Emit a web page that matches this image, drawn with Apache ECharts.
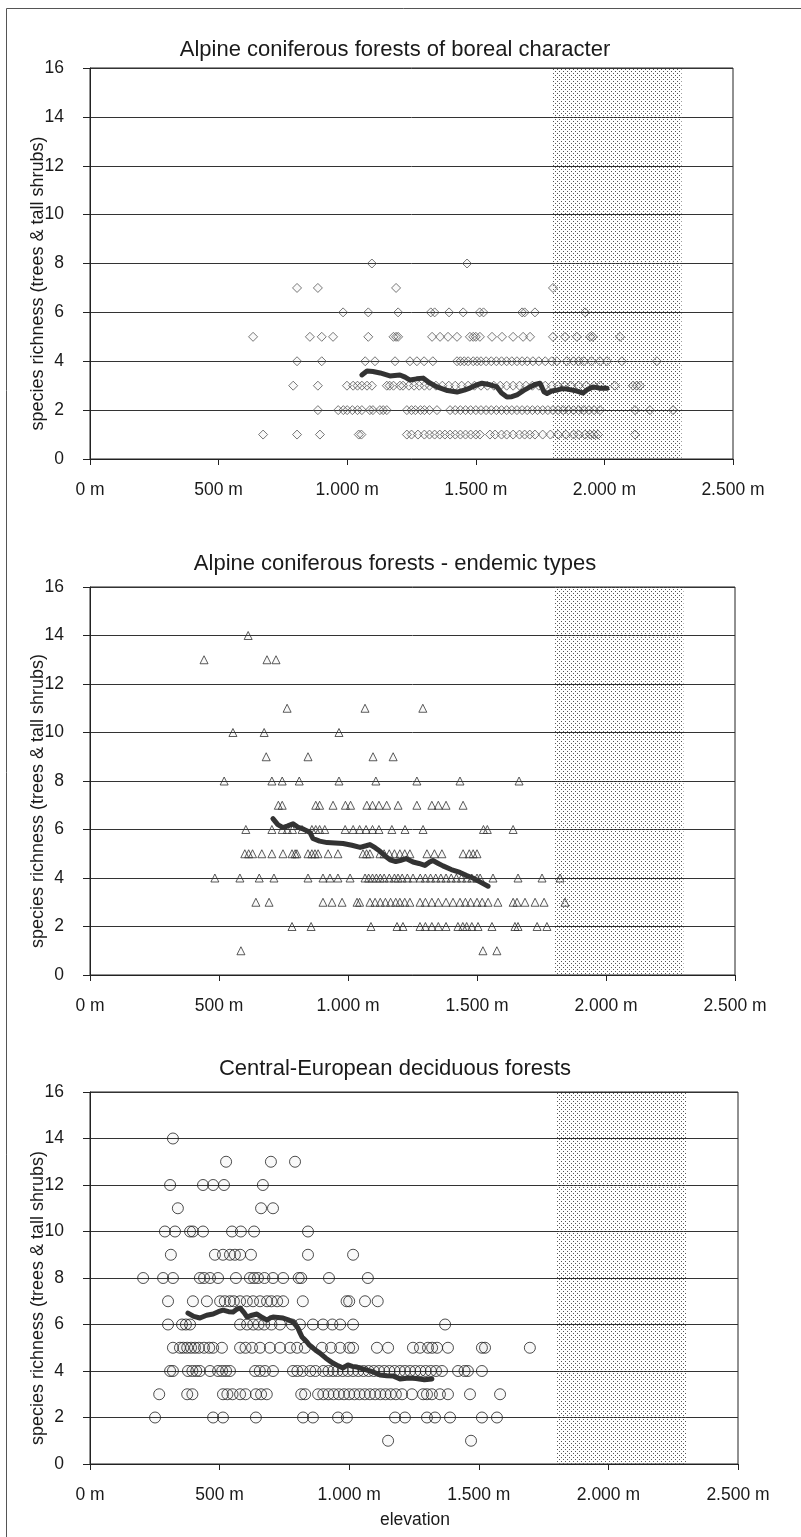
<!DOCTYPE html>
<html>
<head>
<meta charset="utf-8">
<title>species richness vs elevation</title>
<script src="https://cdn.jsdelivr.net/npm/echarts@6/dist/echarts.min.js"></script>
<style>
  html, body { margin: 0; padding: 0; background: #fff; }
  #chart { width: 801px; height: 1537px; }
</style>
</head>
<body>
<div id="chart"></div>
<script>
/************************** data **************************/
// elevations (m) of the plots, grouped by species richness: index = richness
var borealByRichness = [
    [],
    [673, 805, 894, 1045, 1055, 1232, 1250, 1275, 1300, 1320, 1340, 1360, 1380, 1400, 1420, 1440, 1460, 1480, 1500, 1516, 1555, 1575, 1600, 1620, 1645, 1670, 1690, 1710, 1730, 1760, 1790, 1820, 1850, 1880, 1900, 1925, 1945, 1960, 1975, 2119],
    [886, 965, 985, 1000, 1020, 1040, 1057, 1088, 1100, 1127, 1140, 1154, 1232, 1250, 1265, 1285, 1300, 1320, 1349, 1400, 1420, 1440, 1460, 1480, 1500, 1520, 1540, 1560, 1580, 1600, 1620, 1640, 1660, 1680, 1700, 1720, 1740, 1760, 1780, 1800, 1820, 1840, 1860, 1880, 1900, 1920, 1940, 1960, 1983, 2119, 2177, 2267],
    [790, 886, 999, 1023, 1040, 1057, 1077, 1096, 1154, 1165, 1180, 1205, 1217, 1240, 1260, 1280, 1300, 1320, 1345, 1370, 1395, 1420, 1445, 1470, 1495, 1520, 1545, 1570, 1595, 1620, 1645, 1670, 1695, 1720, 1745, 1770, 1795, 1820, 1845, 1870, 1900, 1930, 1960, 1983, 2041, 2111, 2125, 2138],
    [805, 901, 1070, 1108, 1186, 1244, 1271, 1299, 1333, 1427, 1440, 1455, 1470, 1490, 1505, 1520, 1540, 1560, 1580, 1600, 1620, 1640, 1660, 1680, 1700, 1722, 1745, 1770, 1795, 1815, 1854, 1880, 1900, 1920, 1950, 1983, 2010, 2068, 2204],
    [634, 855, 901, 945, 1082, 1180, 1190, 1198, 1330, 1361, 1392, 1427, 1477, 1490, 1500, 1516, 1563, 1602, 1645, 1684, 1711, 1800, 1847, 1893, 1945, 1955, 2061],
    [984, 1082, 1198, 1325, 1340, 1396, 1451, 1515, 1530, 1680, 1690, 1730, 1925],
    [805, 886, 1190, 1800],
    [1096, 1466]
];
var endemicByRichness = [
    [],
    [585, 1523, 1577],
    [783, 857, 1089, 1190, 1213, 1279, 1300, 1325, 1350, 1380, 1426, 1445, 1460, 1480, 1504, 1558, 1647, 1659, 1733, 1771],
    [643, 694, 903, 938, 977, 1035, 1045, 1085, 1105, 1125, 1145, 1165, 1185, 1201, 1220, 1240, 1279, 1300, 1325, 1350, 1380, 1407, 1434, 1455, 1475, 1500, 1520, 1543, 1581, 1640, 1655, 1686, 1725, 1760, 1841],
    [484, 581, 656, 713, 845, 903, 930, 961, 1008, 1066, 1080, 1095, 1110, 1125, 1140, 1160, 1180, 1194, 1210, 1230, 1252, 1280, 1300, 1320, 1340, 1360, 1380, 1400, 1420, 1440, 1460, 1480, 1500, 1512, 1562, 1659, 1752, 1822],
    [600, 615, 630, 666, 705, 748, 783, 795, 802, 845, 860, 872, 884, 923, 961, 1058, 1072, 1085, 1124, 1140, 1160, 1180, 1201, 1220, 1240, 1306, 1335, 1364, 1446, 1470, 1485, 1500],
    [604, 705, 745, 765, 785, 822, 860, 875, 890, 910, 989, 1020, 1045, 1070, 1095, 1120, 1170, 1221, 1291, 1525, 1540, 1640],
    [730, 745, 875, 890, 942, 990, 1010, 1073, 1095, 1120, 1150, 1194, 1267, 1325, 1350, 1380, 1446],
    [520, 705, 745, 811, 965, 1108, 1267, 1434, 1663],
    [683, 845, 1097, 1175],
    [554, 675, 965],
    [764, 1066, 1290],
    [],
    [442, 686, 721],
    [613]
];
var deciduousByRichness = [
    [],
    [1150, 1470],
    [251, 475, 513, 640, 822, 860, 957, 991, 1177, 1215, 1300, 1331, 1389, 1512, 1570],
    [267, 375, 395, 513, 530, 550, 579, 600, 640, 660, 682, 815, 830, 880, 900, 920, 940, 960, 980, 1000, 1020, 1040, 1060, 1080, 1100, 1120, 1140, 1160, 1180, 1204, 1242, 1285, 1300, 1319, 1350, 1381, 1466, 1582],
    [309, 320, 378, 395, 410, 424, 463, 494, 510, 525, 540, 637, 655, 675, 706, 783, 800, 820, 850, 870, 900, 920, 938, 955, 975, 995, 1015, 1035, 1055, 1075, 1095, 1115, 1135, 1155, 1175, 1196, 1215, 1235, 1255, 1275, 1295, 1315, 1335, 1358, 1420, 1445, 1458, 1512],
    [320, 347, 360, 375, 390, 405, 420, 440, 460, 475, 509, 579, 600, 625, 656, 694, 733, 772, 799, 829, 895, 930, 965, 1000, 1015, 1107, 1150, 1246, 1273, 1304, 1320, 1339, 1381, 1512, 1524, 1697],
    [301, 355, 370, 386, 579, 606, 630, 650, 672, 700, 733, 779, 810, 860, 899, 935, 965, 1015, 1370],
    [301, 397, 451, 502, 520, 540, 555, 579, 605, 629, 656, 683, 700, 722, 745, 821, 990, 1000, 1061, 1110],
    [205, 282, 320, 424, 440, 463, 494, 563, 617, 633, 648, 673, 706, 745, 805, 815, 922, 1072],
    [312, 482, 513, 540, 559, 579, 621, 841, 1015],
    [289, 328, 386, 397, 436, 548, 582, 633, 841],
    [339, 660, 706],
    [309, 436, 475, 517, 667],
    [525, 698, 791],
    [320]
];

// running mean lines [elevation, richness]
var borealTrend = [[1057, 3.44], [1077, 3.6], [1100, 3.58], [1128, 3.52], [1150, 3.45], [1166, 3.4], [1185, 3.42], [1205, 3.44], [1225, 3.35], [1244, 3.23], [1270, 3.28], [1295, 3.31], [1320, 3.12], [1349, 2.95], [1390, 2.8], [1427, 2.74], [1455, 2.82], [1477, 2.9], [1500, 3.02], [1524, 3.1], [1550, 3.05], [1582, 2.95], [1600, 2.7], [1621, 2.54], [1640, 2.55], [1660, 2.62], [1685, 2.8], [1711, 2.95], [1730, 3.05], [1750, 3.1], [1765, 2.75], [1777, 2.68], [1795, 2.78], [1816, 2.82], [1835, 2.88], [1855, 2.86], [1875, 2.82], [1893, 2.78], [1917, 2.7], [1935, 2.85], [1956, 2.95], [1980, 2.9], [2010, 2.9]];
var endemicTrend = [[709, 6.45], [728, 6.2], [748, 6.08], [767, 6.15], [787, 6.24], [805, 6.1], [822, 6.04], [840, 5.95], [853, 5.87], [864, 5.63], [890, 5.52], [919, 5.46], [950, 5.44], [981, 5.42], [1015, 5.35], [1047, 5.26], [1070, 5.33], [1085, 5.38], [1105, 5.25], [1124, 5.1], [1145, 4.9], [1163, 4.75], [1185, 4.68], [1202, 4.72], [1225, 4.8], [1252, 4.66], [1275, 4.6], [1298, 4.52], [1315, 4.65], [1329, 4.72], [1350, 4.6], [1368, 4.5], [1400, 4.35], [1434, 4.23], [1460, 4.1], [1484, 4.0], [1515, 3.82], [1543, 3.66]];
var deciduousTrend = [[378, 6.49], [400, 6.35], [424, 6.28], [450, 6.4], [475, 6.45], [495, 6.55], [513, 6.62], [535, 6.55], [552, 6.54], [565, 6.65], [579, 6.71], [595, 6.5], [606, 6.32], [625, 6.4], [644, 6.45], [665, 6.3], [683, 6.19], [695, 6.28], [706, 6.32], [725, 6.3], [745, 6.28], [765, 6.2], [783, 6.11], [795, 5.95], [802, 5.85], [810, 5.65], [818, 5.46], [828, 5.35], [837, 5.25], [846, 5.12], [856, 5.03], [870, 4.9], [887, 4.77], [910, 4.55], [937, 4.34], [958, 4.22], [976, 4.13], [985, 4.2], [995, 4.26], [1012, 4.2], [1030, 4.17], [1050, 4.1], [1069, 4.04], [1095, 3.95], [1119, 3.83], [1145, 3.8], [1169, 3.79], [1196, 3.66], [1230, 3.7], [1258, 3.68], [1290, 3.62], [1319, 3.66]];

var panelTitles = ['Alpine coniferous forests of boreal character', 'Alpine coniferous forests - endemic types', 'Central-European deciduous forests'];
var panelSymbols = ['diamond', 'triangle', 'circle'];
var shadedBand = [1800, 2300];          // dotted elevation band
var xTicks = [0, 500, 1000, 1500, 2000, 2500];
var yTicks = [0, 2, 4, 6, 8, 10, 12, 14, 16];

/************************** layout **************************/
var FONT = '"Liberation Sans", Arial, sans-serif';
var grids = [
    {left: 90, top: 68, width: 643, height: 391},
    {left: 90, top: 587, width: 645, height: 388},
    {left: 90, top: 1092, width: 648, height: 372}
];
var titleY = [50, 564, 1069];
var symbolSizes = [9, 8, 11];
var symbolEdge = ['#555', '#333', '#222'];

function toPoints(rows) {
    var pts = [];
    for (var r = 0; r < rows.length; ++r) {
        for (var k = 0; k < rows[r].length; ++k) {
            pts.push([rows[r][k], r]);
        }
    }
    return pts;
}

function elevLabel(v) {
    if (v < 1000) return v + ' m';
    var rest = String(v % 1000);
    while (rest.length < 3) rest = '0' + rest;
    return Math.floor(v / 1000) + '.' + rest + ' m';
}

// dotted fill for the shaded band
function dotPattern() {
    var c = document.createElement('canvas');
    c.width = 4;
    c.height = 4;
    var ctx = c.getContext('2d');
    ctx.fillStyle = '#555';
    ctx.fillRect(1, 1, 1, 1);
    ctx.fillRect(3, 3, 1, 1);
    return c;
}

var pointRows = [borealByRichness, endemicByRichness, deciduousByRichness];
var trends = [borealTrend, endemicTrend, deciduousTrend];
var pattern = dotPattern();

var option = {
    backgroundColor: '#fff',
    animation: false,
    textStyle: {fontFamily: FONT},
    grid: [],
    xAxis: [],
    yAxis: [],
    series: [],
    graphic: []
};

for (var i = 0; i < 3; ++i) {
    var g = grids[i];
    option.grid.push({
        left: g.left, top: g.top, width: g.width, height: g.height,
        show: true, borderColor: '#222', borderWidth: 1, backgroundColor: 'transparent'
    });
    option.xAxis.push({
        type: 'value', gridIndex: i,
        min: xTicks[0], max: xTicks[xTicks.length - 1], interval: 500,
        axisLine: {show: true, lineStyle: {color: '#222', width: 1}},
        axisTick: {show: true, length: 6, lineStyle: {color: '#222'}},
        splitLine: {show: false},
        axisLabel: {margin: 22, color: '#1a1a1a', fontSize: 17.5, fontFamily: FONT, formatter: elevLabel}
    });
    option.yAxis.push({
        type: 'value', gridIndex: i,
        min: yTicks[0], max: yTicks[yTicks.length - 1], interval: 2,
        axisLine: {show: true, lineStyle: {color: '#222', width: 1}},
        axisTick: {show: true, length: 7, lineStyle: {color: '#222'}},
        splitLine: {show: true, lineStyle: {color: '#333', width: 1}},
        axisLabel: {margin: 26, color: '#1a1a1a', fontSize: 17.5, fontFamily: FONT}
    });
    // shaded band
    option.series.push({
        type: 'scatter', xAxisIndex: i, yAxisIndex: i, data: [], z: 1, silent: true,
        markArea: {
            silent: true,
            itemStyle: {color: {image: pattern, repeat: 'repeat'}, borderWidth: 0},
            data: [[{xAxis: shadedBand[0], yAxis: 0}, {xAxis: shadedBand[1], yAxis: 16}]]
        }
    });
    option.series.push({
        type: 'scatter', xAxisIndex: i, yAxisIndex: i, z: 3,
        symbol: panelSymbols[i], symbolSize: symbolSizes[i],
        itemStyle: {color: 'rgba(90,90,90,0.05)', borderColor: symbolEdge[i], borderWidth: 1},
        data: toPoints(pointRows[i])
    });
    option.series.push({
        type: 'line', xAxisIndex: i, yAxisIndex: i, z: 5,
        showSymbol: false, symbol: 'none',
        lineStyle: {color: '#333', width: 5, cap: 'round', join: 'round'},
        data: trends[i]
    });
    option.graphic.push({
        type: 'text', x: 395, y: titleY[i],
        style: {text: panelTitles[i], font: '22px ' + FONT, fill: '#1a1a1a', align: 'center', verticalAlign: 'middle'}
    });
    option.graphic.push({
        type: 'text', x: 38, y: g.top + g.height / 2 + 20, rotation: Math.PI / 2,
        style: {text: 'species richness (trees & tall shrubs)', font: '18px ' + FONT, fill: '#1a1a1a',
                align: 'center', verticalAlign: 'middle'}
    });
}

// x axis title and outer frame
option.graphic.push({
    type: 'text', x: 415, y: 1520,
    style: {text: 'elevation', font: '17.5px ' + FONT, fill: '#1a1a1a', align: 'center', verticalAlign: 'middle'}
});
option.graphic.push({
    type: 'polyline', silent: true,
    shape: {points: [[6.5, 1537], [6.5, 8.5], [801, 8.5]]},
    style: {stroke: '#555', lineWidth: 1, fill: null}
});

var chart = echarts.init(document.getElementById('chart'), null, {renderer: 'canvas'});
chart.setOption(option);
</script>
</body>
</html>
